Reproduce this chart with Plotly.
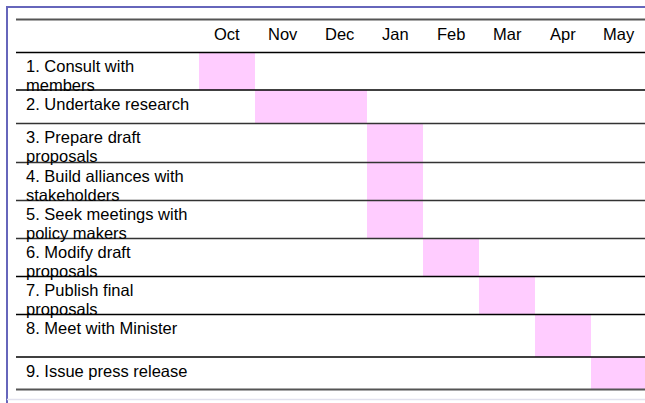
import plotly.graph_objects as go

# ---- data ----
months = ["Oct", "Nov", "Dec", "Jan", "Feb", "Mar", "Apr", "May"]
tasks = [
    "1. Consult with|members",
    "2. Undertake research",
    "3. Prepare draft|proposals",
    "4. Build alliances with|stakeholders",
    "5. Seek meetings with|policy makers",
    "6. Modify draft|proposals",
    "7. Publish final|proposals",
    "8. Meet with Minister",
    "9. Issue press release",
]
start_month = [0, 1, 3, 3, 3, 4, 5, 6, 7]   # index into months
duration = [1, 2, 1, 1, 1, 1, 1, 1, 1]      # number of months

# ---- layout constants (pixels) ----
W, H = 645, 403
COL_X0 = 199.0      # left edge of first month column
COL_W = 56.0        # month column width
TABLE_X0 = 16.0
LABEL_X = 24.0
TABLE_TOP = 19.5
HEADER_BOTTOM = 52.5
row_heights = [37.5, 33.5, 39, 38, 38, 38, 38, 42.5, 32.5]
FONT = "Liberation Sans, Arial, sans-serif"
FS = 16.5
PINK = "#FFCCFF"

# row boundaries
bounds = [HEADER_BOTTOM]
for h in row_heights:
    bounds.append(bounds[-1] + h)
tops = bounds[:-1]
centers = [t + h / 2 for t, h in zip(tops, row_heights)]

fig = go.Figure()
fig.add_trace(go.Bar(
    orientation="h",
    y=centers,
    x=duration,
    base=start_month,
    width=row_heights,
    marker=dict(color=PINK, line=dict(width=0)),
    hoverinfo="skip",
    showlegend=False,
))

x_range = [(0 - COL_X0) / COL_W, (W - COL_X0) / COL_W]
def px_to_x(p):
    return (p - COL_X0) / COL_W

annotations = []
# month headers
for i, m in enumerate(months):
    annotations.append(dict(x=i + 0.5, y=(TABLE_TOP + HEADER_BOTTOM) / 2 - 2.5, xref="x", yref="y",
                            text=m, showarrow=False, xanchor="center", yanchor="middle",
                            font=dict(family=FONT, size=FS, color="#000")))
# task labels
for t, lab in zip(tops, tasks):
    for j, line in enumerate(lab.split("|")):
        annotations.append(dict(x=px_to_x(LABEL_X), y=t + 13.5 + 18.5 * j, xref="x", yref="y",
                                text=line, showarrow=False, xanchor="left", yanchor="middle",
                                font=dict(family=FONT, size=FS, color="#000")))

shapes = []
# horizontal rule lines
grey_rows = {2, 3, 4, 5}
shapes.append(dict(type="line", xref="paper", yref="y", x0=TABLE_X0 / W, x1=1,
                   y0=TABLE_TOP, y1=TABLE_TOP, line=dict(color="#555", width=2)))
for k, b in enumerate(bounds):
    if k == len(bounds) - 1:
        col, wd = "#555", 2
    elif k in grey_rows:
        col, wd = "#333", 1.6
    else:
        col, wd = "#000", 1.5
    shapes.append(dict(type="line", xref="paper", yref="y", x0=TABLE_X0 / W, x1=1,
                       y0=b, y1=b, line=dict(color=col, width=wd)))
# outer frame
shapes.append(dict(type="line", xref="paper", yref="y", x0=7 / W, x1=1, y0=7, y1=7,
                   line=dict(color="#6666BB", width=2)))
shapes.append(dict(type="line", xref="paper", yref="y", x0=7 / W, x1=7 / W, y0=6, y1=H,
                   line=dict(color="#6666BB", width=2)))
shapes.append(dict(type="line", xref="paper", yref="y", x0=7 / W, x1=1, y0=399.5, y1=399.5,
                   line=dict(color="#E2E2EE", width=1.5)))

fig.update_layout(
    width=W, height=H,
    margin=dict(l=0, r=0, t=0, b=0),
    paper_bgcolor="white", plot_bgcolor="white",
    xaxis=dict(range=x_range, visible=False, fixedrange=True),
    yaxis=dict(range=[H, 0], visible=False, fixedrange=True),
    annotations=annotations,
    shapes=shapes,
    bargap=0,
)

fig.write_html("out.html", config={"displayModeBar": False})
